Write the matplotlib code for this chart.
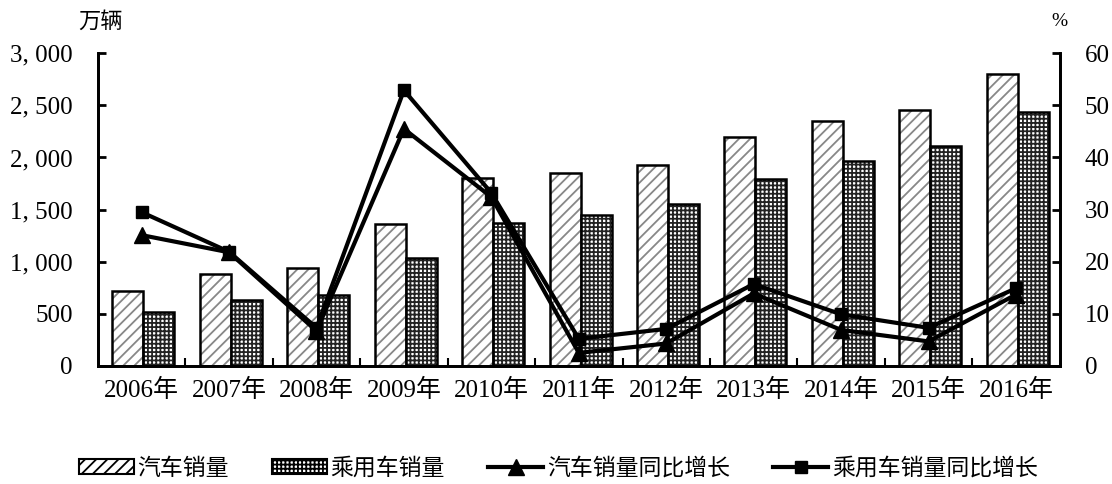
import matplotlib
matplotlib.use("Agg")
import matplotlib.pyplot as plt
import numpy as np
from matplotlib.ticker import FuncFormatter, FixedLocator
from matplotlib.patches import Patch

plt.rcParams['hatch.linewidth'] = 1.3

years = ['2006年', '2007年', '2008年', '2009年', '2010年', '2011年',
         '2012年', '2013年', '2014年', '2015年', '2016年']
car_sales = [721.6, 879.2, 938.1, 1364.5, 1806.2, 1850.5, 1930.6, 2198.4, 2349.2, 2459.8, 2802.8]
pass_sales = [517.6, 630.0, 675.6, 1033.1, 1375.8, 1447.2, 1549.5, 1792.9, 1970.1, 2114.6, 2437.7]
car_growth = [25.1, 21.8, 6.7, 45.5, 32.4, 2.5, 4.3, 13.9, 6.9, 4.7, 13.7]
pass_growth = [29.5, 21.9, 7.3, 52.9, 33.2, 5.2, 7.1, 15.7, 9.9, 7.3, 14.9]

serif = ['Liberation Serif', 'Noto Sans CJK SC']
sans = ['Noto Sans CJK SC', 'DejaVu Sans']

fig = plt.figure(figsize=(11.12, 4.84), dpi=100)
ax = fig.add_axes([0.088, 0.244, 0.865, 0.646])
ax2 = ax.twinx()

x = np.arange(len(years))
w = 0.355
car_hatch = dict(facecolor='white', edgecolor='#888888', linewidth=0, hatch='///')
pass_hatch = dict(facecolor='white', edgecolor='#222222', linewidth=0, hatch='++++')
ax.bar(x - w/2 + 0.02, car_sales, w, **car_hatch)
ax.bar(x - w/2 + 0.02, car_sales, w, facecolor='none', edgecolor='black', linewidth=1.8)
ax.bar(x + w/2 + 0.02, pass_sales, w, **pass_hatch)
ax.bar(x + w/2 + 0.02, pass_sales, w, facecolor='none', edgecolor='black', linewidth=1.8)

l1, = ax2.plot(x, car_growth, color='black', lw=3, marker='^', ms=12, label='汽车销量同比增长')
l2, = ax2.plot(x, pass_growth, color='black', lw=3, marker='s', ms=9, label='乘用车销量同比增长')

ax.set_xlim(-0.5, len(years) - 0.5)
ax.set_ylim(0, 3000)
ax2.set_ylim(0, 60)
ax.set_yticks(np.arange(0, 3001, 500))
ax2.set_yticks(np.arange(0, 61, 10))
ax.yaxis.set_major_formatter(FuncFormatter(lambda v, p: f"{int(v):,}".replace(',', ', ')))

ax.set_xticks(x)
ax.set_xticklabels(years, family=serif, fontsize=18)
ax.tick_params(axis='x', which='major', length=0, pad=9)
ax.xaxis.set_minor_locator(FixedLocator(np.arange(0.5, len(years) - 1, 1.0)))
ax.tick_params(axis='x', which='minor', direction='in', length=6, width=1.5)
ax.tick_params(axis='y', direction='in', length=6, width=2, labelsize=18, pad=18)
ax2.tick_params(axis='y', direction='in', length=6, width=2, labelsize=18, pad=18)
for lab in ax.get_yticklabels() + ax2.get_yticklabels():
    lab.set_family(serif)

for a in (ax, ax2):
    a.spines['top'].set_visible(False)
    for s in ('left', 'right', 'bottom'):
        a.spines[s].set_linewidth(2)

fig.text(0.09, 0.955, '万辆', ha='center', va='center', family=sans, fontsize=16)
fig.text(0.953, 0.955, '%', ha='center', va='center', family=serif, fontsize=14)

h1 = Patch(facecolor='white', edgecolor='black', hatch='///', linewidth=1.5)
h2 = Patch(facecolor='white', edgecolor='black', hatch='++++', linewidth=1.5)
fig.legend(handles=[h1, h2, l1, l2], labels=['汽车销量', '乘用车销量', '汽车销量同比增长', '乘用车销量同比增长'],
           loc='center', bbox_to_anchor=(0.502, 0.033), ncol=4,
           frameon=False, prop={'family': sans, 'size': 16.5}, handlelength=2.4,
           handleheight=0.6, handletextpad=0.15, columnspacing=1.9)

fig.savefig('out.png', dpi=100)
